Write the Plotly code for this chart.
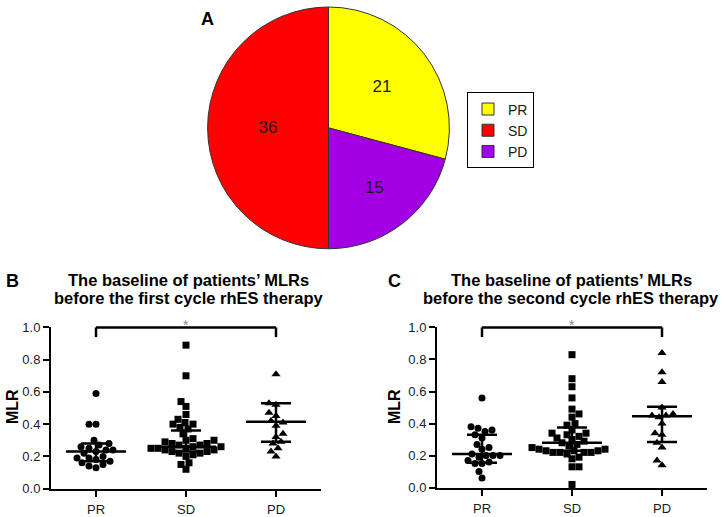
import plotly.graph_objects as go

W, H = 721, 517
FONT = "Liberation Sans, Arial, sans-serif"

# ---------------- data ----------------
pie_labels = ["PR", "SD", "PD"]
pie_values = [21, 36, 15]
pie_colors = ["#FFFF00", "#FF0000", "#A300E4"]

categories = ["PR", "SD", "PD"]

b_pr = [0.59, 0.40, 0.40, 0.30, 0.28, 0.27, 0.26, 0.25, 0.24, 0.24, 0.23,
        0.22, 0.20, 0.19, 0.19, 0.18, 0.17, 0.16, 0.15, 0.14, 0.13]
b_sd = [0.89, 0.70, 0.54, 0.51, 0.46, 0.43, 0.41, 0.40, 0.40, 0.38, 0.37, 0.34,
        0.31, 0.30, 0.30, 0.29, 0.28, 0.28, 0.27, 0.27, 0.26, 0.26, 0.25, 0.25,
        0.25, 0.24, 0.24, 0.23, 0.23, 0.22, 0.22, 0.21, 0.20, 0.16, 0.15, 0.12]
b_pd = [0.71, 0.53, 0.52, 0.47, 0.45, 0.42, 0.41, 0.39, 0.34, 0.32, 0.29,
        0.28, 0.25, 0.23, 0.20]
b_median = [0.23, 0.26, 0.415]
b_q1 = [0.17, 0.23, 0.29]
b_q3 = [0.28, 0.36, 0.53]

c_pr = [0.56, 0.38, 0.37, 0.36, 0.35, 0.33, 0.31, 0.27, 0.25, 0.24, 0.21,
        0.20, 0.20, 0.20, 0.19, 0.17, 0.16, 0.15, 0.15, 0.10, 0.06]
c_sd = [0.83, 0.68, 0.63, 0.56, 0.49, 0.46, 0.44, 0.40, 0.39, 0.36, 0.34, 0.34,
        0.33, 0.32, 0.31, 0.30, 0.29, 0.28, 0.27, 0.26, 0.25, 0.24, 0.24, 0.23,
        0.23, 0.23, 0.22, 0.22, 0.22, 0.22, 0.21, 0.19, 0.18, 0.13, 0.13, 0.02]
c_pd = [0.84, 0.72, 0.66, 0.50, 0.46, 0.45, 0.45, 0.44, 0.40, 0.34, 0.33,
        0.28, 0.25, 0.17, 0.14]
c_median = [0.21, 0.28, 0.445]
c_q1 = [0.155, 0.23, 0.285]
c_q3 = [0.33, 0.375, 0.505]

yticks = [0.0, 0.2, 0.4, 0.6, 0.8, 1.0]
symbols = ["circle", "square", "triangle-up"]

title_b = ["The baseline of patients’ MLRs", "before the first cycle rhES therapy"]
title_c = ["The baseline of patients’ MLRs", "before the second cycle rhES therapy"]

# ---------------- helpers ----------------
PX_X = 90.0   # pixels per category unit
PX_Y = 166.0  # pixels per 1.0 of MLR


def swarm(vals, diam=7.0, step=1.0):
    order = sorted(range(len(vals)), key=lambda i: vals[i])
    placed = []
    xs = [0.0] * len(vals)
    for n, i in enumerate(order):
        y = vals[i] * PX_Y
        found = None
        k = 0
        while found is None:
            signs = [0] if k == 0 else ([1, -1] if n % 2 == 0 else [-1, 1])
            for s in signs:
                x = s * k * step
                if all((x - px) ** 2 + (y - py) ** 2 >= diam ** 2 for px, py in placed):
                    found = x
                    break
            k += 1
        placed.append((found, y))
        xs[i] = found / PX_X
    return xs


def px2paper_x(px):
    return px / W


def px2paper_y(py):
    return 1 - py / H


fig = go.Figure()

fig.add_trace(go.Pie(
    labels=pie_labels, values=pie_values, sort=False,
    direction="counterclockwise", rotation=0,
    marker=dict(colors=pie_colors, line=dict(color="#333333", width=1)),
    textinfo="value", textposition="inside", insidetextorientation="horizontal",
    textfont=dict(family=FONT, size=17, color="#1a1a1a"),
    domain=dict(x=[px2paper_x(204), px2paper_x(453)], y=[px2paper_y(249), px2paper_y(0)]),
    showlegend=True, hoverinfo="label+value",
))

panels = [
    ("x", "y", [b_pr, b_sd, b_pd], b_median, b_q1, b_q3),
    ("x2", "y2", [c_pr, c_sd, c_pd], c_median, c_q1, c_q3),
]

for xa, ya, groups, med, q1, q3 in panels:
    for gi, vals in enumerate(groups):
        offs = swarm(vals)
        fig.add_trace(go.Scatter(
            x=[gi + o for o in offs], y=vals, mode="markers", xaxis=xa, yaxis=ya,
            marker=dict(symbol=symbols[gi], size=7 if gi < 2 else 8, color="black",
                        line=dict(width=0)),
            cliponaxis=False, showlegend=False, hoverinfo="y",
        ))
    ex, ey = [], []
    for gi in range(3):
        ex += [gi - 0.333, gi + 0.333, None]
        ey += [med[gi], med[gi], None]
        ex += [gi - 0.167, gi + 0.167, None, gi - 0.167, gi + 0.167, None, gi, gi, None]
        ey += [q1[gi], q1[gi], None, q3[gi], q3[gi], None, q1[gi], q3[gi], None]
    fig.add_trace(go.Scatter(
        x=ex, y=ey, mode="lines", xaxis=xa, yaxis=ya,
        line=dict(color="black", width=2.5), showlegend=False, hoverinfo="skip",
    ))

axis_common = dict(showline=True, linewidth=2, linecolor="black", ticks="outside",
                   tickwidth=2, tickcolor="black", showgrid=False,
                   zeroline=False, fixedrange=True,
                   tickfont=dict(family=FONT, size=13, color="#1a1a1a"))

fig.update_layout(
    width=W, height=H,
    margin=dict(l=0, r=0, t=0, b=0),
    paper_bgcolor="white", plot_bgcolor="white",
    font=dict(family=FONT, color="#1a1a1a"),
    legend=dict(x=px2paper_x(467), y=px2paper_y(88), xanchor="left", yanchor="top",
                bordercolor="black", borderwidth=1, bgcolor="white",
                font=dict(family=FONT, size=14, color="#1a1a1a"),
                itemwidth=30, tracegroupgap=2),
    xaxis=dict(domain=[px2paper_x(51), px2paper_x(321)], range=[-0.5, 2.5],
               tickvals=[0, 1, 2], ticktext=categories, anchor="y", ticklen=6,
               ticklabelstandoff=2, **axis_common),
    yaxis=dict(domain=[px2paper_y(496), px2paper_y(330)], range=[0, 1],
               tickvals=yticks, tickformat=".1f", anchor="x", ticklen=6, **axis_common),
    xaxis2=dict(domain=[px2paper_x(437), px2paper_x(707)], range=[-0.5, 2.5],
                tickvals=[0, 1, 2], ticktext=categories, anchor="y2", ticklen=6,
                ticklabelstandoff=2, **axis_common),
    yaxis2=dict(domain=[px2paper_y(495), px2paper_y(330)], range=[0, 1],
                tickvals=yticks, tickformat=".1f", anchor="x2", ticklen=6, **axis_common),
)

shapes = []
annotations = []
for xa, ya in [("x", "y"), ("x2", "y2")]:
    xd, yd = xa + " domain", ya + " domain"
    x0, x1 = 0.5 / 3, 2.5 / 3
    ln = dict(color="black", width=2.5)
    shapes.append(dict(type="line", xref=xd, yref=yd, x0=x0, x1=x1, y0=1, y1=1, line=ln))
    shapes.append(dict(type="line", xref=xd, yref=yd, x0=x0, x1=x0, y0=0.94, y1=1, line=ln))
    shapes.append(dict(type="line", xref=xd, yref=yd, x0=x1, x1=x1, y0=0.94, y1=1, line=ln))
    annotations.append(dict(text="*", xref=xd, yref=yd, x=0.5, y=1.075, showarrow=False,
                            font=dict(family=FONT, size=14, color="#888888")))

# panel letters
for txt, px, py in [("A", 207, 12), ("B", 12, 282), ("C", 394, 282)]:
    annotations.append(dict(text="<b>" + txt + "</b>", xref="paper", yref="paper",
                            x=px2paper_x(px), y=px2paper_y(py), showarrow=False,
                            xanchor="center", yanchor="middle",
                            font=dict(family=FONT, size=18, color="black")))

# panel titles
for lines, cx in [(title_b, 188), (title_c, 571)]:
    for line, cy in zip(lines, [281, 300]):
        annotations.append(dict(text="<b>" + line + "</b>", xref="paper", yref="paper",
                                x=px2paper_x(cx), y=px2paper_y(cy), showarrow=False,
                                xanchor="center", yanchor="middle",
                                font=dict(family=FONT, size=16.5, color="black")))

# y-axis titles
for cx in [12, 394]:
    annotations.append(dict(text="<b>MLR</b>", xref="paper", yref="paper",
                            x=px2paper_x(cx), y=px2paper_y(412), showarrow=False,
                            textangle=-90, xanchor="center", yanchor="middle",
                            font=dict(family=FONT, size=16, color="black")))

fig.update_layout(shapes=shapes, annotations=annotations)

fig.write_html(
    "out.html",
    config={"displayModeBar": False},
    post_script="document.body.style.margin='0px';document.body.style.overflow='hidden';",
)
